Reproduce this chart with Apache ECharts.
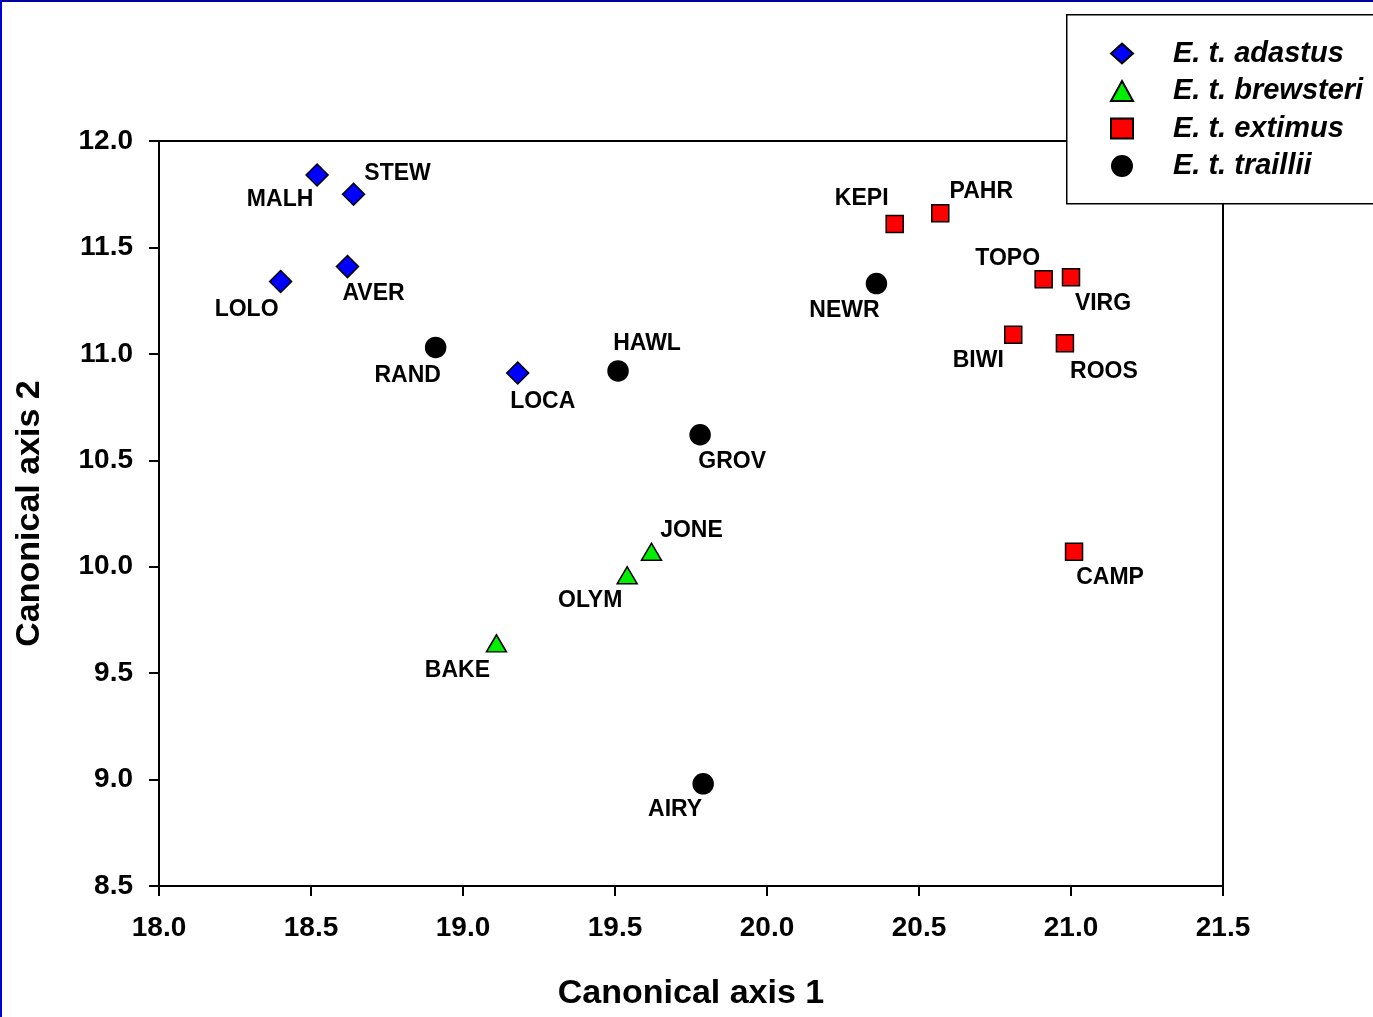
<!DOCTYPE html>
<html>
<head>
<meta charset="utf-8">
<script src="https://cdn.jsdelivr.net/npm/echarts@6/dist/echarts.min.js"></script>
<style>
	html, body { margin: 0; padding: 0; background: #fff; }
	#chart-one { position: absolute; left: 0; top: 0; width: 1373px; height: 1017px; }
	.edge-top { position: absolute; left: 0; top: 0; width: 1373px; height: 2px; background: #00009c; }
	.edge-left { position: absolute; left: 0; top: 0; width: 2px; height: 1017px; background: #0000d0; }
</style>
</head>
<body>
<div id="chart-one"></div>
<div class="edge-top"></div>
<div class="edge-left"></div>
<script>
// site names and canonical scores
var adastusSites = ['MALH', 'STEW', 'LOLO', 'AVER', 'LOCA'];
var adastusX = [18.52, 18.64, 18.40, 18.62, 19.18];
var adastusY = [11.84, 11.75, 11.34, 11.41, 10.91];

var brewsteriSites = ['JONE', 'OLYM', 'BAKE'];
var brewsteriX = [19.62, 19.54, 19.11];
var brewsteriY = [10.07, 9.96, 9.64];

var extimusSites = ['KEPI', 'PAHR', 'TOPO', 'VIRG', 'BIWI', 'ROOS', 'CAMP'];
var extimusX = [20.42, 20.57, 20.91, 21.00, 20.81, 20.98, 21.01];
var extimusY = [11.61, 11.66, 11.35, 11.36, 11.09, 11.05, 10.07];

var trailliiSites = ['RAND', 'HAWL', 'GROV', 'AIRY', 'NEWR'];
var trailliiX = [18.91, 19.51, 19.78, 19.79, 20.36];
var trailliiY = [11.03, 10.92, 10.62, 8.98, 11.33];

var seriesNames = ['E. t. adastus', 'E. t. brewsteri', 'E. t. extimus', 'E. t. traillii'];

// where each site label sits relative to its marker
var labelOffsets = {
	MALH: [-37, 25], STEW: [44, -21], LOLO: [-34, 28], AVER: [26, 27], LOCA: [25, 29],
	JONE: [40, -21], OLYM: [-37, 25], BAKE: [-39, 27],
	KEPI: [-33, -25], PAHR: [41, -22], TOPO: [-36, -21], VIRG: [32, 26],
	BIWI: [-35, 26], ROOS: [39, 28], CAMP: [36, 26],
	RAND: [-28, 28], HAWL: [29, -27], GROV: [32, 27], AIRY: [-28, 26], NEWR: [-32, 27]
};

var FONT = "'Liberation Sans', Arial, sans-serif";

function buildPoints(names, xs, ys) {
	var out = [];
	for (var i = 0; i < names.length; i++) {
		out.push({
			name: names[i],
			value: [xs[i], ys[i]],
			label: { offset: labelOffsets[names[i]] }
		});
	}
	return out;
}

function scatterSeries(name, symbol, size, color, data) {
	return {
		name: name,
		type: 'scatter',
		symbol: symbol,
		symbolSize: size,
		itemStyle: { color: color, borderColor: '#000', borderWidth: 1.5, opacity: 1 },
		label: {
			show: true,
			position: 'inside',
			formatter: '{b}',
			color: '#000',
			fontFamily: FONT,
			fontWeight: 'bold',
			fontSize: 23
		},
		emphasis: { disabled: true },
		data: data
	};
}

var chart = echarts.init(document.getElementById('chart-one'));

var option = {
	animation: false,
	backgroundColor: '#fff',
	grid: {
		left: 159, top: 141, right: 150, bottom: 131,
		show: true, borderColor: '#000', borderWidth: 2
	},
	xAxis: {
		type: 'value',
		min: 18, max: 21.5, interval: 0.5,
		name: 'Canonical axis 1',
		nameLocation: 'middle',
		nameGap: 91,
		nameTextStyle: { color: '#000', fontFamily: FONT, fontWeight: 'bold', fontSize: 34 },
		axisLine: { lineStyle: { color: '#000', width: 2 } },
		axisTick: { show: true, inside: false, length: 10, lineStyle: { color: '#000', width: 2 } },
		axisLabel: {
			color: '#000', fontFamily: FONT, fontWeight: 'bold', fontSize: 28, margin: 28,
			formatter: function (v) { return v.toFixed(1); }
		},
		splitLine: { show: false }
	},
	yAxis: {
		type: 'value',
		min: 8.5, max: 12, interval: 0.5,
		name: 'Canonical axis 2',
		nameLocation: 'middle',
		nameGap: 112,
		nameTextStyle: { color: '#000', fontFamily: FONT, fontWeight: 'bold', fontSize: 34 },
		axisLine: { lineStyle: { color: '#000', width: 2 } },
		axisTick: { show: true, inside: false, length: 10, lineStyle: { color: '#000', width: 2 } },
		axisLabel: {
			color: '#000', fontFamily: FONT, fontWeight: 'bold', fontSize: 28, margin: 26,
			formatter: function (v) { return v.toFixed(1); }
		},
		splitLine: { show: false }
	},
	legend: {
		orient: 'vertical',
		left: 1110,
		top: 39,
		padding: 0,
		itemGap: 8.5,
		itemWidth: 22,
		itemHeight: 20,
		selectedMode: false,
		z: 20,
		data: seriesNames,
		textStyle: {
			color: '#000', fontFamily: FONT, fontWeight: 'bold', fontStyle: 'italic',
			fontSize: 29, lineHeight: 28, padding: [0, 0, 0, 35]
		}
	},
	graphic: [{
		type: 'rect',
		left: 1066, top: 14,
		shape: { width: 330, height: 189 },
		style: { fill: '#fff', stroke: '#000', lineWidth: 1.5 },
		z: 10
	}],
	series: [
		scatterSeries(seriesNames[0], 'diamond', 22, '#0000ff', buildPoints(adastusSites, adastusX, adastusY)),
		scatterSeries(seriesNames[1], 'triangle', [20, 17], '#00ee00', buildPoints(brewsteriSites, brewsteriX, brewsteriY)),
		scatterSeries(seriesNames[2], 'rect', 17, '#ff0000', buildPoints(extimusSites, extimusX, extimusY)),
		scatterSeries(seriesNames[3], 'circle', 20, '#000000', buildPoints(trailliiSites, trailliiX, trailliiY))
	]
};

chart.setOption(option);
</script>
</body>
</html>
